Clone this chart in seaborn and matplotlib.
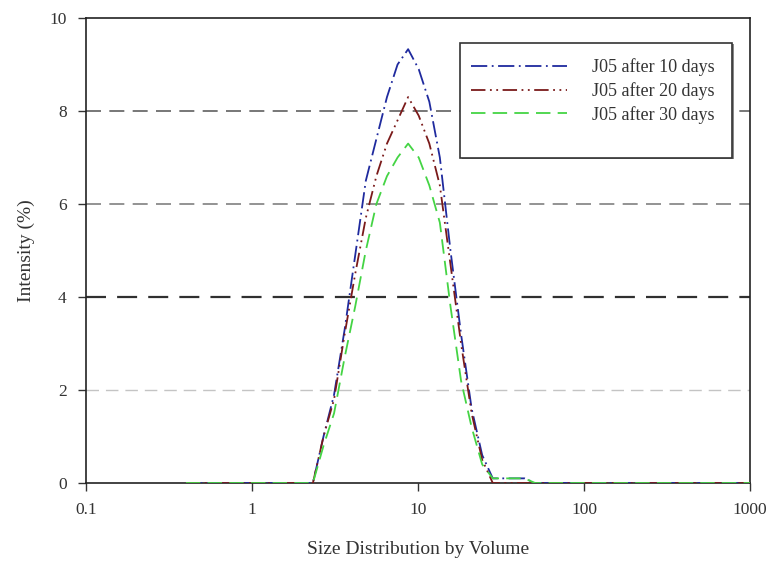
import matplotlib
matplotlib.use("Agg")
import matplotlib.pyplot as plt
import seaborn as sns
import pandas as pd
from matplotlib.patches import Rectangle

sizes = [0.4, 0.4632, 0.5365, 0.6213, 0.7195, 0.8332, 0.9649, 1.117, 1.294, 1.499,
         1.736, 2.01, 2.328, 2.696, 3.122, 3.615, 4.187, 4.849, 5.615, 6.503,
         7.531, 8.721, 10.1, 11.7, 13.54, 15.69, 18.17, 21.04, 24.36, 28.21,
         32.67, 37.84, 43.82, 50.75, 58.77, 68.06, 78.82, 91.28, 105.7, 122.4,
         141.8, 164.2, 190.1, 220.2, 255.0, 295.3, 342.0, 396.1, 458.7, 531.2,
         615.1, 712.4, 825.0, 955.4, 1106.0]

day10 = [0]*12 + [0, 1.0, 1.9, 3.3, 4.9, 6.5, 7.4, 8.3, 9.0, 9.33, 8.9, 8.2, 7.0,
                  5.0, 3.2, 1.6, 0.6, 0.1, 0.1, 0.1, 0.1, 0] + [0]*21
day20 = [0]*12 + [0, 1.0, 1.8, 3.2, 4.5, 5.7, 6.6, 7.3, 7.8, 8.3, 7.9, 7.3, 6.4,
                  4.7, 3.0, 1.5, 0.5, 0, 0, 0, 0, 0] + [0]*21
day30 = [0]*12 + [0, 0.8, 1.5, 2.7, 3.8, 5.0, 6.0, 6.6, 7.0, 7.3, 7.0, 6.4, 5.6,
                  3.8, 2.2, 1.2, 0.4, 0.1, 0.1, 0.1, 0.1, 0] + [0]*21

labels = ["J05 after 10 days", "J05 after 20 days", "J05 after 30 days"]
colors = ["#1f2a9e", "#7a1a1a", "#44d444"]
dash_styles = [(9, 2.5, 1, 2.5), (8, 2.5, 1, 2.5, 1, 2.5), (8, 4)]

grid_levels = [2, 4, 6, 8]
grid_colors = ["#c4c4c4", "#303030", "#808080", "#606060"]
grid_widths = [1.0, 1.6, 1.2, 1.2]

xticks = [0.1, 1, 10, 100, 1000]
xticklabels = ["0.1", "1", "10", "100", "1000"]
yticks = [0, 2, 4, 6, 8, 10]

df = pd.concat([
    pd.DataFrame({"size": sizes, "intensity": vals, "series": lab})
    for vals, lab in zip([day10, day20, day30], labels)
], ignore_index=True)

sns.set_style("ticks")
plt.rcParams["font.family"] = ["Liberation Serif", "DejaVu Serif"]

fig = plt.figure(figsize=(7.71, 5.65), dpi=100)
ax = fig.add_axes([0.1115, 0.1451, 0.8613, 0.823])

for lvl, c, w in zip(grid_levels, grid_colors, grid_widths):
    ax.axhline(lvl, color=c, lw=w, dashes=(9, 5), zorder=1)

sns.lineplot(data=df, x="size", y="intensity", hue="series", style="series",
             palette=colors, dashes=dash_styles, hue_order=labels, style_order=labels,
             linewidth=1.3, ax=ax, zorder=3, estimator=None, sort=False)

ax.set_xscale("log")
ax.set_xlim(0.1, 1000)
ax.set_ylim(0, 10)
ax.set_xticks(xticks)
ax.set_xticklabels(xticklabels)
ax.set_yticks(yticks)
ax.minorticks_off()
ax.tick_params(axis="both", direction="out", length=6, width=1, labelsize=12.5,
               colors="#333333", labelcolor="#333333", pad=8)
for s in ax.spines.values():
    s.set_visible(True)
    s.set_color("#222222")
    s.set_linewidth(1.2)

ax.set_xlabel("Size Distribution by Volume", fontsize=14, labelpad=16, color="#333333")
ax.set_ylabel("Intensity (%)", fontsize=14, labelpad=10, color="#333333")

# legend box
ax.add_patch(Rectangle((0.566, 0.697), 0.41, 0.247, transform=ax.transAxes,
                       facecolor="#888888", edgecolor="none", zorder=4))
ax.add_patch(Rectangle((0.563, 0.699), 0.41, 0.247, transform=ax.transAxes,
                       facecolor="white", edgecolor="#333333", lw=1.2, zorder=5))

handles, labs = ax.get_legend_handles_labels()
leg = ax.legend(handles, labs, loc="upper left", bbox_to_anchor=(0.580, 0.913),
                frameon=False, fontsize=13, handlelength=5.3, handletextpad=1.4,
                labelspacing=0.32, borderpad=0, borderaxespad=0)
leg.set_zorder(6)
for t in leg.get_texts():
    t.set_color("#333333")

fig.savefig("out.png", dpi=100)
